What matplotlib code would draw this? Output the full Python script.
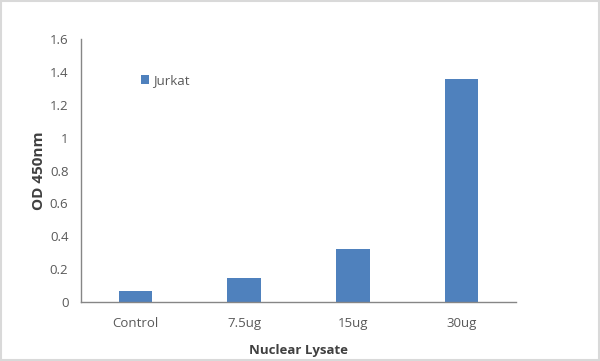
import matplotlib.pyplot as plt
from matplotlib.patches import Rectangle

# data
categories = ['Control', '7.5ug', '15ug', '30ug']
jurkat = [0.065, 0.148, 0.32, 1.357]
y_ticks = [0, 0.2, 0.4, 0.6, 0.8, 1, 1.2, 1.4, 1.6]
y_tick_labels = ['0', '0.2', '0.4', '0.6', '0.8', '1', '1.2', '1.4', '1.6']

plt.rcParams['font.family'] = ['Open Sans', 'DejaVu Sans']

fig = plt.figure(figsize=(6, 3.61), dpi=100)
ax = fig.add_axes([0.135, 0.1634, 0.725, 0.7286])

x = range(len(categories))
ax.bar(x, jurkat, width=0.31, color='#4F81BD', label='Jurkat')

ax.set_xlim(-0.5, len(categories) - 0.5)
ax.set_ylim(0, 1.6)
ax.set_yticks(y_ticks)
ax.set_yticklabels(y_tick_labels)
ax.set_xticks(list(x))
ax.set_xticklabels(categories)
ax.tick_params(length=0, colors='#595959', labelsize=9.5)
ax.tick_params(axis='y', pad=9)
ax.tick_params(axis='x', pad=11)

for s in ['top', 'right']:
    ax.spines[s].set_visible(False)
for s in ['left', 'bottom']:
    ax.spines[s].set_color('#868686')
    ax.spines[s].set_linewidth(1)

ax.set_xlabel('Nuclear Lysate', fontsize=9.5, fontweight='bold', color='#404040', labelpad=10)
ax.set_ylabel('OD 450nm', fontsize=11, fontweight='bold', color='#404040', labelpad=3)

ax.legend(loc='upper left', bbox_to_anchor=(0.11, 0.912), frameon=False,
          fontsize=9.5, handlelength=0.6, handleheight=0.6, handletextpad=0.35,
          labelcolor='#595959')

fig.patches.append(Rectangle((0.002, 0.003), 0.996, 0.994, transform=fig.transFigure,
                             fill=False, edgecolor='#D9D9D9', linewidth=1.5))

fig.savefig('out.png', dpi=100)
